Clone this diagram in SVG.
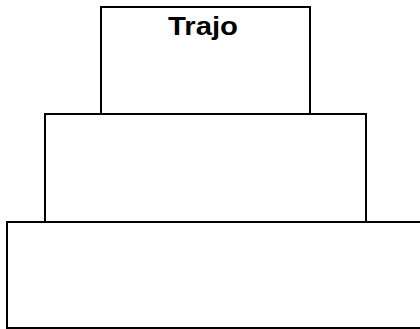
<svg xmlns="http://www.w3.org/2000/svg" width="420" height="329" viewBox="0 0 420 329">
<style>
.box{fill:#fff;stroke:#000;stroke-width:2}
.lbl{font-family:"Liberation Sans",Arial,sans-serif;font-weight:bold;font-size:25px;fill:#000}
</style>
<rect width="420" height="329" fill="#fff"/>
<g id="bottom"><rect class="box" x="7" y="222" width="420" height="106"/></g>
<g id="middle"><rect class="box" x="45" y="114" width="321" height="108"/></g>
<g id="top"><rect class="box" x="101" y="7" width="209" height="107"/>
<text class="lbl" x="203" y="35" text-anchor="middle" textLength="70" lengthAdjust="spacingAndGlyphs">Trajo</text></g>
<g id="connectors"/>
</svg>
